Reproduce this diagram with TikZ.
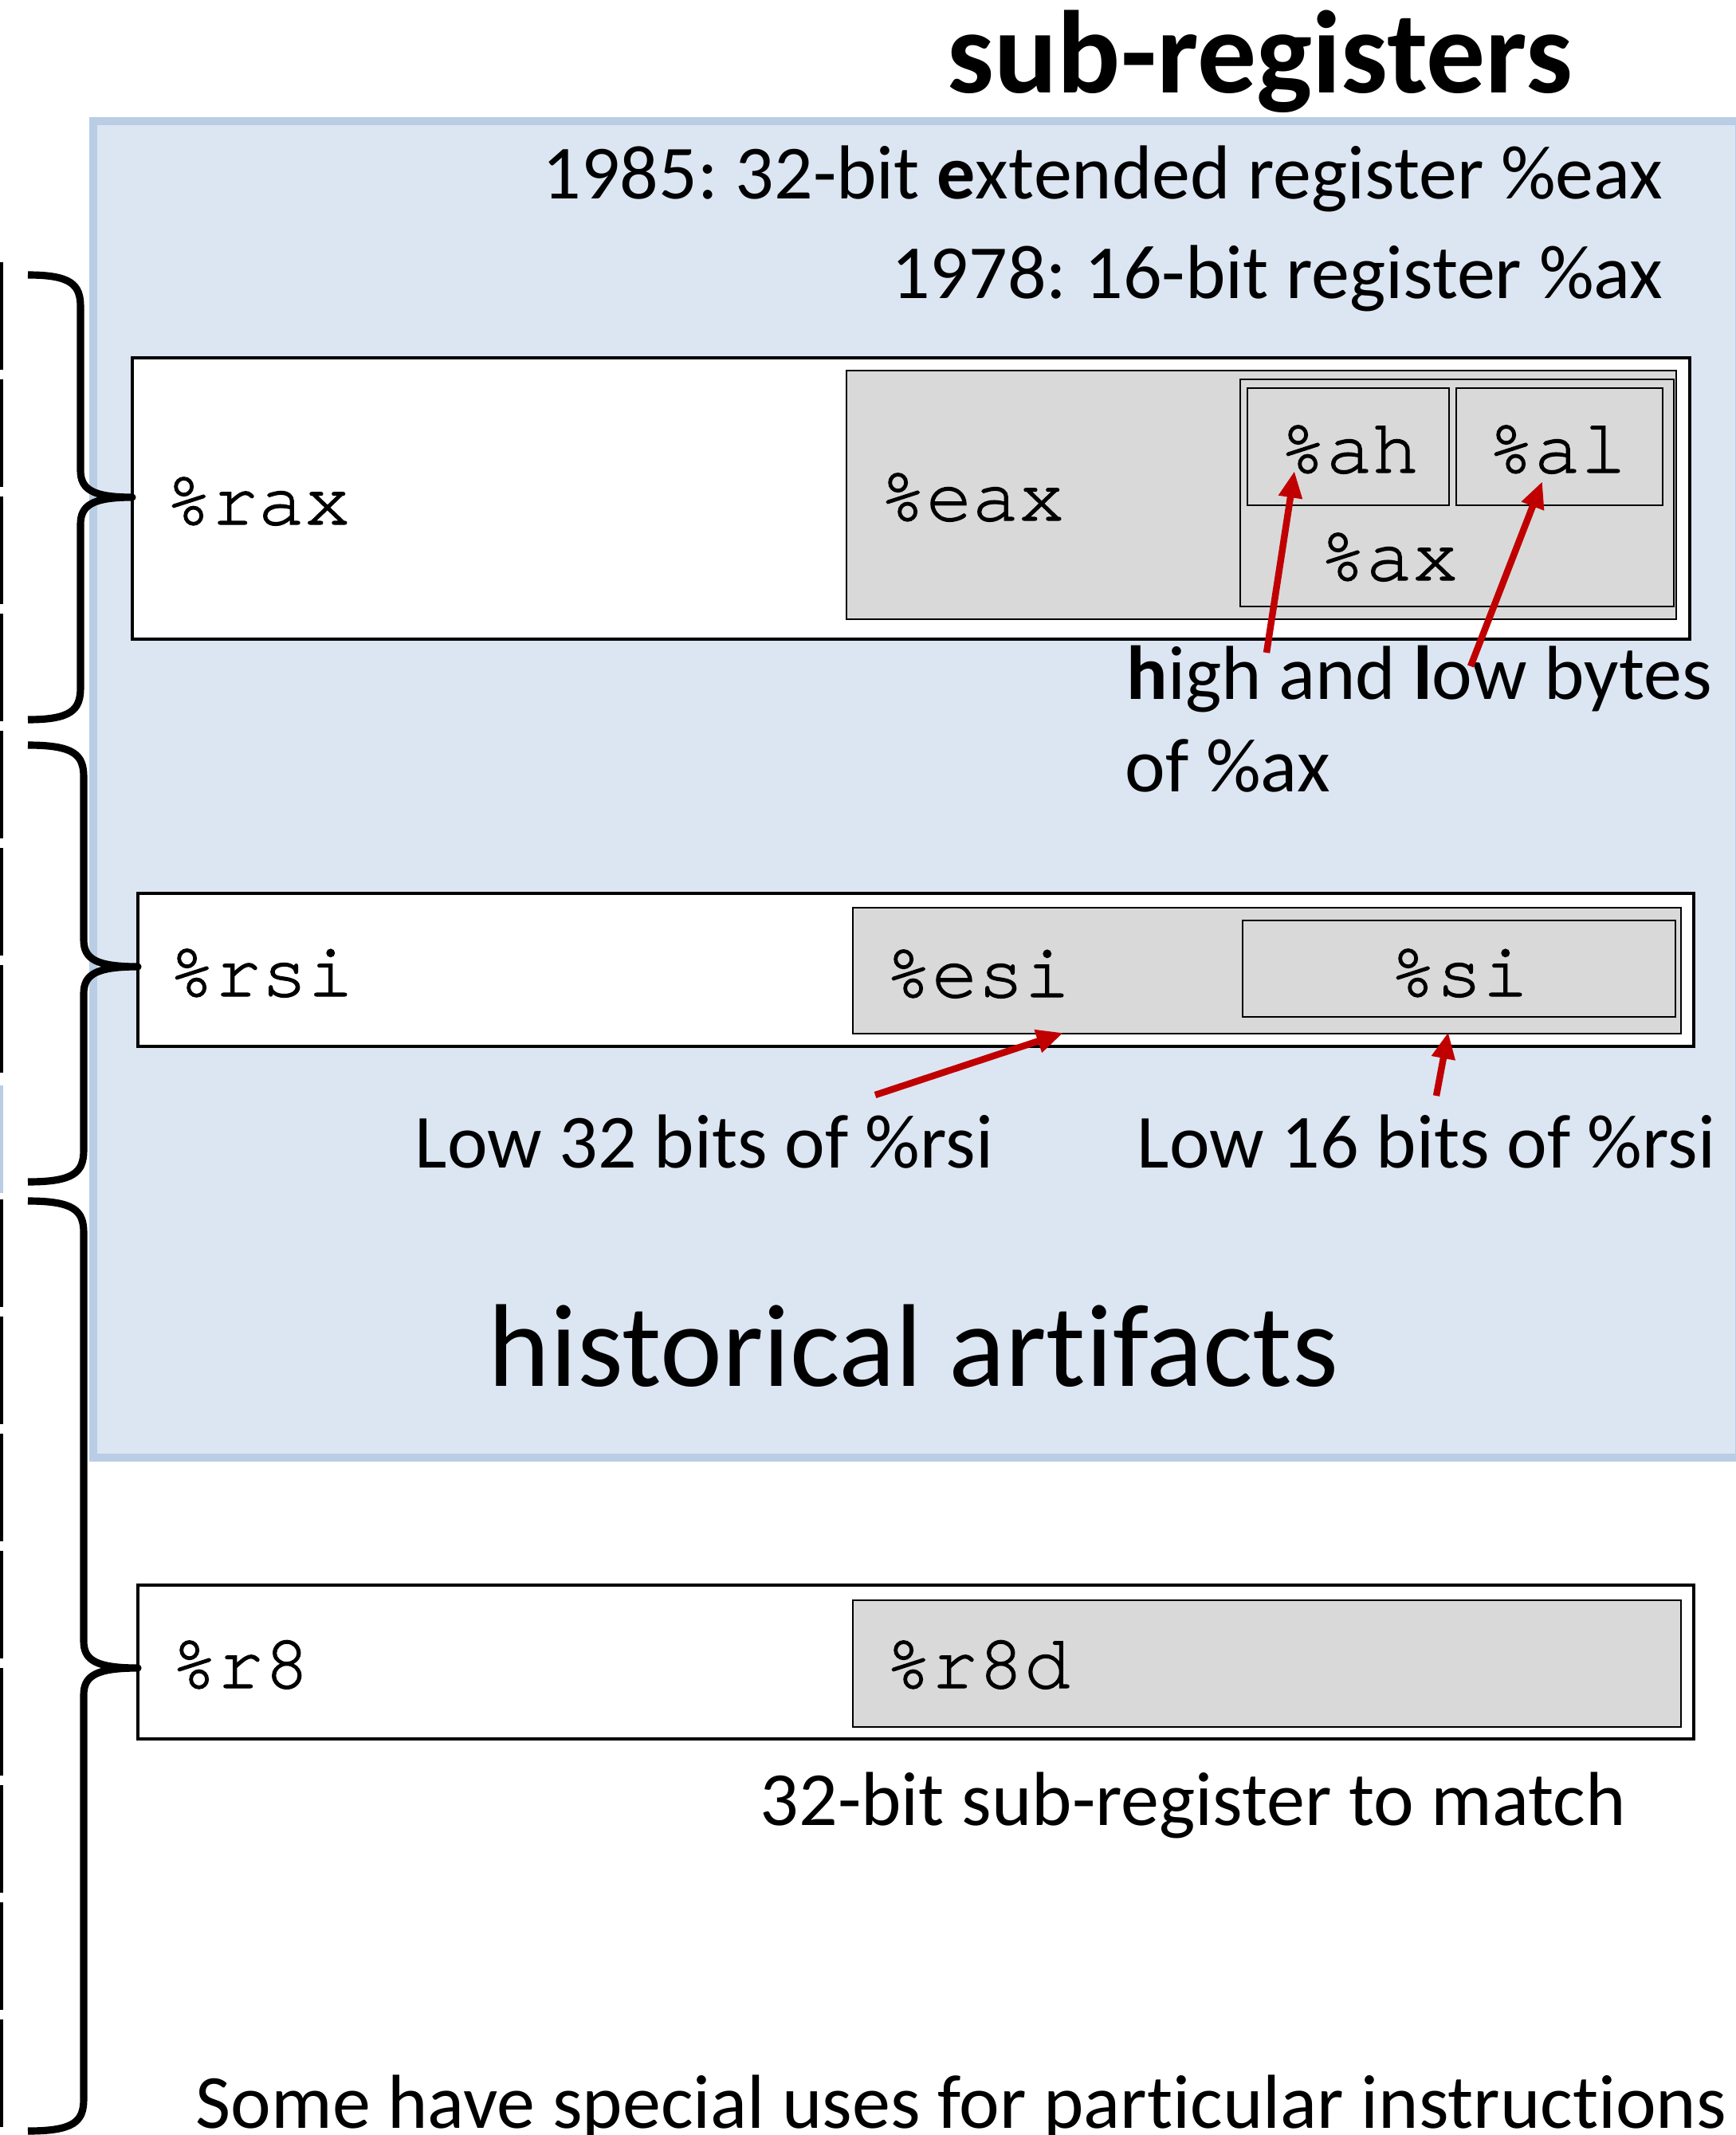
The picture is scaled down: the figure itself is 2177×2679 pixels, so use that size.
\documentclass[tikz,border=0pt]{standalone}
\usepackage{fontspec}
\setmainfont[Ligatures={NoCommon}]{Carlito}
\newfontfamily\regfont[FakeBold=1.2]{TeX Gyre Cursor}
\usetikzlibrary{arrows.meta,fit}
\frenchspacing

\definecolor{panelfill}{HTML}{DCE6F2}
\definecolor{panelline}{HTML}{B9CDE5}
\definecolor{subfill}{HTML}{D9D9D9}
\definecolor{pointer}{HTML}{C00000}

\tikzset{
  txt/.style={inner sep=0pt, font=\fontsize{27.3pt}{32pt}\selectfont},
  bigtxt/.style={inner sep=0pt, font=\fontsize{42pt}{48pt}\selectfont},
  reg/.style={inner sep=0pt, font=\regfont\fontsize{27.5pt}{32pt}\selectfont},
  outerbox/.style={inner sep=0pt, draw=black, line width=1.4pt, fill=white},
  subbox/.style={inner sep=0pt, draw=black, line width=0.8pt, fill=subfill},
  pointerline/.style={draw=pointer, line width=2.4pt, -{Triangle[length=9.5pt,width=8pt]}},
  bracestroke/.style={draw=black, line width=2.6pt, line join=round, line cap=butt},
  guide/.style={draw=black, line width=1.3pt, dash pattern=on 38.4pt off 3.4pt}
}

% curly brace: top y, tip y, bottom y, stem x, tip x
\newcommand\regbrace[5]{%
  \draw[bracestroke] (35,#1) .. controls (#4-12,#1) and (#4,#1+12) .. (#4,#1+40)
    -- (#4,#2-34) .. controls (#4,#2-10) and (#4+15,#2) .. (#5,#2)
    .. controls (#4+15,#2) and (#4,#2+10) .. (#4,#2+34)
    -- (#4,#3-40) .. controls (#4,#3-12) and (#4-12,#3) .. (35,#3);
}

\begin{document}
\begin{tikzpicture}[x=0.01cm,y=-0.01cm]
\useasboundingbox (0,0) rectangle (2177,2679);

% left guide line
\draw[guide] (2,329) -- (2,1348);
\draw[guide] (2,1505) -- (2,2679);
\fill[panelline] (0,1362) rectangle (4,1497);

% shaded panel
\node[fit={(117,152) (2182,1829)}, inner sep=0pt, draw=panelline, line width=2.85pt, fill=panelfill] (panel) {};

% title and notes
\node[inner sep=0pt, font=\bfseries\fontsize{42pt}{48pt}\selectfont, anchor=base] (title) at (1581,117) {sub-registers};
\node[txt, anchor=base east] (yr85) at (2087,250) {1985: 32-bit \textbf{e}xtended register \%eax};
\node[txt, anchor=base east] (yr78) at (2087,375) {1978: 16-bit register \%ax};

% %rax family
\node[fit={(166,449) (2120,802)}, outerbox] (rax) {};
\node[fit={(1062,465) (2103,777)}, subbox] (eax) {};
\node[fit={(1556,476) (2100,761)}, subbox] (ax) {};
\node[fit={(1565,487) (1818,634)}, subbox] (ah) {};
\node[fit={(1827,487) (2086,634)}, subbox] (al) {};
\node[reg, anchor=base west] (raxl) at (207,658) {\%rax};
\node[reg, anchor=base west] (eaxl) at (1103,653) {\%eax};
\node[reg, anchor=base west] (ahl) at (1605,593) {\%ah};
\node[reg, anchor=base west] (all) at (1866,593) {\%al};
\node[reg, anchor=base west] (axl) at (1655,728) {\%ax};

\node[txt, anchor=base west] (hl1) at (1413,877) {\textbf{h}igh and \textbf{l}ow bytes};
\node[txt, anchor=base west] (hl2) at (1411,993) {of \%ax};

\coordinate (hitail) at (1589,819);
\coordinate (hitip) at (1624,591);
\coordinate (lotail) at (1845,836);
\coordinate (lotip) at (1935,604);
\draw[pointerline] (hitail) -- (hitip);
\draw[pointerline] (lotail) -- (lotip);

% %rsi family
\node[fit={(173,1121) (2125,1313)}, outerbox] (rsi) {};
\node[fit={(1070,1139) (2109,1297)}, subbox] (esi) {};
\node[fit={(1559,1155) (2102,1276)}, subbox] (si) {};
\node[reg, anchor=base west] (rsil) at (211,1250) {\%rsi};
\node[reg, anchor=base west] (esil) at (1110,1251) {\%esi};
\node[reg, anchor=base west] (sil) at (1743,1250) {\%si};

\node[txt, anchor=base west] (lo32) at (520,1465) {Low 32 bits of \%rsi};
\node[txt, anchor=base west] (lo16) at (1426,1465) {Low 16 bits of \%rsi};

\coordinate (esitail) at (1098,1374);
\coordinate (esitip) at (1334,1296);
\coordinate (sitail) at (1802,1375);
\coordinate (sitip) at (1817,1295);
\draw[pointerline] (esitail) -- (esitip);
\draw[pointerline] (sitail) -- (sitip);

\node[bigtxt, anchor=base west] (hist) at (612,1739) {historical artifacts};

% %r8 family
\node[fit={(173,1989) (2125,2182)}, outerbox] (r8) {};
\node[fit={(1070,2008) (2109,2167)}, subbox] (r8d) {};
\node[reg, anchor=base west] (r8l) at (214,2118) {\%r8};
\node[reg, anchor=base west] (r8dl) at (1110,2118) {\%r8d};

\node[txt, anchor=base west] (match) at (953,2290) {32-bit sub-register to match};
\node[txt, anchor=base west] (special) at (245,2670) {Some have special uses for particular instructions};

% grouping braces
\regbrace{345}{624}{903}{101}{166}
\regbrace{935}{1213}{1483}{105}{173}
\regbrace{1507}{2093}{2674}{105}{173}
\end{tikzpicture}
\end{document}
